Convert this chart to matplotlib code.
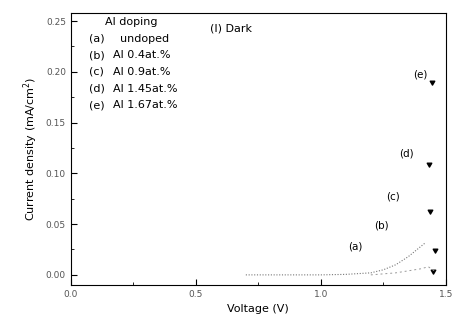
import matplotlib.pyplot as plt

# dark J-V curves
v_a = [0.70, 0.80, 0.90, 1.00, 1.10, 1.20, 1.25, 1.30, 1.35, 1.40, 1.42]
j_a = [0.000, 0.000, 0.000, 0.000, 0.0005, 0.002, 0.005, 0.010, 0.018, 0.028, 0.032]
v_b = [1.20, 1.25, 1.30, 1.35, 1.40, 1.43, 1.46]
j_b = [0.000, 0.001, 0.002, 0.004, 0.006, 0.008, 0.003]

# arrow heads marking the curve ends
tip_v = [1.448, 1.456, 1.436, 1.432, 1.444]
tip_j = [0.004, 0.0246, 0.063, 0.109, 0.190]

curve_names = ["(a)", "(b)", "(c)", "(d)", "(e)"]
name_v = [1.136, 1.244, 1.288, 1.344, 1.396]
name_j = [0.0276, 0.049, 0.077, 0.120, 0.197]

legend_tags = ["(a)", "(b)", "(c)", "(d)", "(e)"]
legend_text = ["  undoped", "Al 0.4at.%", "Al 0.9at.%", "Al 1.45at.%", "Al 1.67at.%"]


def main():
    fig = plt.figure(figsize=(4.54, 3.25), dpi=100)
    ax = fig.add_axes([0.156, 0.123, 0.826, 0.837])

    ax.plot(v_a, j_a, color="#777777", lw=0.8, ls=(0, (1, 1.5)))
    ax.plot(v_b, j_b, color="#999999", lw=0.7, ls=(0, (2, 3)))
    ax.scatter(tip_v, tip_j, marker=(3, 0, 60), s=14, color="black")

    for name, x, y in zip(curve_names, name_v, name_j):
        ax.text(x, y, name, fontsize=7.5, ha="center", va="center")

    ax.text(0.555, 0.2425, "(I) Dark", fontsize=8, va="center")
    ax.text(0.136, 0.249, "Al doping", fontsize=8, va="center")
    for i, (tag, txt) in enumerate(zip(legend_tags, legend_text)):
        y = 0.2325 - i * 0.0163
        ax.text(0.072, y, tag, fontsize=8, va="center")
        ax.text(0.168, y, txt, fontsize=8, va="center")

    ax.set_xlim(0.0, 1.5)
    ax.set_ylim(-0.010, 0.258)
    ax.set_xticks([0.0, 0.5, 1.0, 1.5])
    ax.set_xticklabels(["0.0", "0.5", "1.0", "1.5"])
    ax.set_xticks([0.25, 0.75, 1.25], minor=True)
    ax.set_yticks([0.00, 0.05, 0.10, 0.15, 0.20, 0.25])
    ax.set_yticklabels(["0.00", "0.05", "0.10", "0.15", "0.20", "0.25"])
    ax.set_yticks([0.025, 0.075, 0.125, 0.175, 0.225], minor=True)
    ax.tick_params(direction="in", labelsize=6.5, labelcolor="#555555",
                   length=4, width=0.8)
    ax.tick_params(which="minor", direction="in", length=2)

    ax.set_xlabel("Voltage (V)", fontsize=8)
    ax.set_ylabel("Current density (mA/cm$^2$)", fontsize=8)

    fig.savefig("out.png", dpi=100)


if __name__ == "__main__":
    main()
